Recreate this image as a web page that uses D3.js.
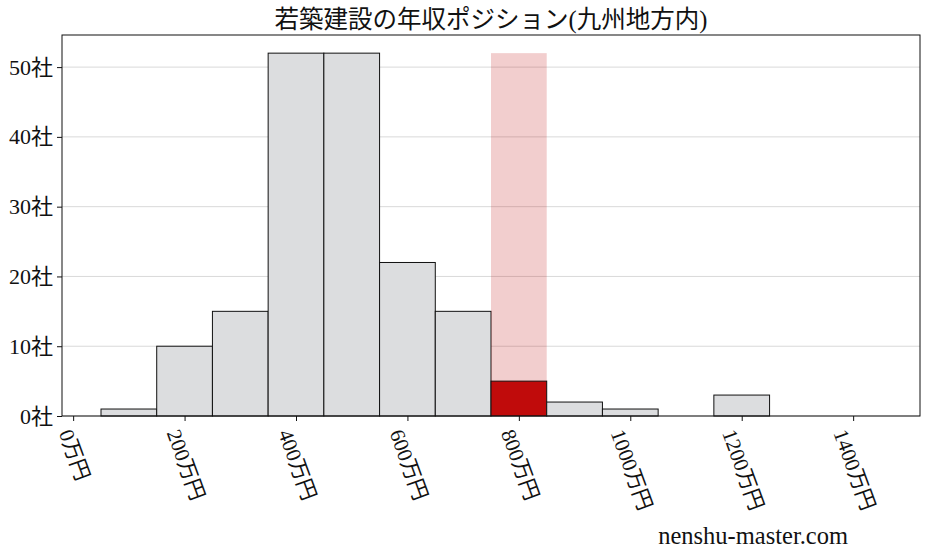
<!DOCTYPE html>
<html>
<head>
<meta charset="utf-8">
<script src="https://cdn.jsdelivr.net/npm/d3@7"></script>
<style>
  body { margin: 0; background: #fff; }
  svg text { font-family: "Liberation Serif", "Noto Sans CJK JP", serif; fill: #111; }
</style>
</head>
<body>
<div id="vis"></div>
<script>
// chart size and plot frame
const WIDTH = 927;
const HEIGHT = 557;
const MARG = {left: 62, right: 7, top: 35, bottom: 141};
const VIS_WIDTH = WIDTH - MARG.left - MARG.right;
const VIS_HEIGHT = HEIGHT - MARG.top - MARG.bottom;

// histogram data (bin start, end in 万円, count of companies)
const binStart = [50, 150, 250, 350, 450, 550, 650, 750, 850, 950, 1050, 1150];
const binEnd   = [150, 250, 350, 450, 550, 650, 750, 850, 950, 1050, 1150, 1250];
const counts   = [1, 10, 15, 52, 52, 22, 15, 5, 2, 1, 0, 3];
const highlightBin = 7; // the company's own bin (800万円)
const xTicks = [0, 200, 400, 600, 800, 1000, 1200, 1400];
const yTicks = [0, 10, 20, 30, 40, 50];
const TITLE = "若築建設の年収ポジション(九州地方内)";

const RED = "#c00b0b";

const svg = d3.select("#vis")
  .append("svg")
    .attr("width", WIDTH)
    .attr("height", HEIGHT);

const X_SCALE = d3.scaleLinear().domain([-20, 1520]).range([0, VIS_WIDTH]);
const Y_SCALE = d3.scaleLinear().domain([0, 52 * 1.05]).range([VIS_HEIGHT, 0]);

const plot = svg.append("g")
  .attr("transform", "translate(" + MARG.left + "," + MARG.top + ")");

// horizontal grid lines
plot.selectAll(".grid")
  .data(yTicks)
  .enter().append("line")
    .attr("x1", 0).attr("x2", VIS_WIDTH)
    .attr("y1", d => Y_SCALE(d)).attr("y2", d => Y_SCALE(d))
    .attr("stroke", "#d9d9d9")
    .attr("stroke-width", 1);

// bars
plot.selectAll(".bar")
  .data(counts)
  .enter().append("rect")
    .attr("x", (d, i) => X_SCALE(binStart[i]))
    .attr("y", d => Y_SCALE(d))
    .attr("width", (d, i) => X_SCALE(binEnd[i]) - X_SCALE(binStart[i]))
    .attr("height", d => VIS_HEIGHT - Y_SCALE(d))
    .attr("fill", (d, i) => i == highlightBin ? RED : "#dcdddf")
    .attr("stroke", "#111")
    .attr("stroke-width", 1);

// translucent band over the company's bin
plot.append("rect")
  .attr("x", X_SCALE(binStart[highlightBin]))
  .attr("y", Y_SCALE(d3.max(counts)))
  .attr("width", X_SCALE(binEnd[highlightBin]) - X_SCALE(binStart[highlightBin]))
  .attr("height", Y_SCALE(counts[highlightBin]) - Y_SCALE(d3.max(counts)))
  .attr("fill", RED)
  .attr("fill-opacity", 0.2);

// frame
plot.append("rect")
  .attr("width", VIS_WIDTH).attr("height", VIS_HEIGHT)
  .attr("fill", "none").attr("stroke", "#111").attr("stroke-width", 1);

// y axis
const yAxis = plot.append("g")
  .call(d3.axisLeft(Y_SCALE).tickValues(yTicks).tickSize(5).tickPadding(4)
    .tickFormat(d => d + "社"));
yAxis.select(".domain").remove();
yAxis.selectAll("line").attr("stroke", "#111");
yAxis.selectAll("text")
  .attr("font-size", "22px")
  .attr("fill", "#111")
  .attr("font-family", "'Liberation Serif', 'Noto Sans CJK JP', serif");

// x axis with rotated labels
const FS = 21;
const xAxis = plot.append("g")
  .attr("transform", "translate(0," + VIS_HEIGHT + ")")
  .call(d3.axisBottom(X_SCALE).tickValues(xTicks).tickSize(5).tickFormat(d => d + "万円"));
xAxis.select(".domain").remove();
xAxis.selectAll("line").attr("stroke", "#111");
xAxis.selectAll("text")
  .attr("font-size", FS + "px")
  .attr("fill", "#111")
  .attr("font-family", "'Liberation Serif', 'Noto Sans CJK JP', serif")
  .attr("text-anchor", "start")
  .attr("dy", "0.8em")
  .attr("y", 0);
// center each rotated label under its tick
xAxis.selectAll(".tick").each(function() {
  const t = d3.select(this).select("text");
  const L = t.node().getComputedTextLength();
  const shift = -(L * Math.cos(70 * Math.PI / 180) - FS * Math.sin(70 * Math.PI / 180)) / 2;
  t.attr("transform", "translate(" + shift + ",11) rotate(70)");
});

// title
svg.append("text")
  .attr("x", MARG.left + VIS_WIDTH / 2)
  .attr("y", 28)
  .attr("text-anchor", "middle")
  .attr("font-size", "24.5px")
  .text(TITLE);

// watermark
svg.append("text")
  .attr("x", 848)
  .attr("y", 544)
  .attr("text-anchor", "end")
  .attr("font-size", "24.5px")
  .text("nenshu-master.com");
</script>
</body>
</html>
